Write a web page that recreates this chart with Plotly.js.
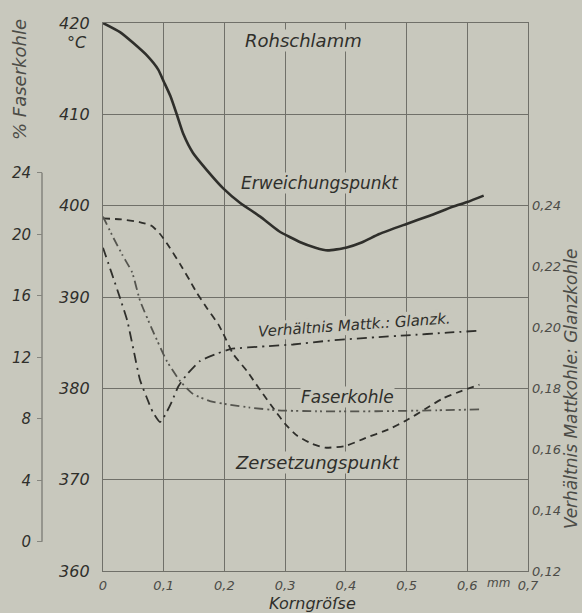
<!DOCTYPE html>
<html>
<head>
<meta charset="utf-8">
<script src="https://cdn.plot.ly/plotly-3.0.1.min.js"></script>
<style>html,body{margin:0;padding:0;background:#c8c8bd;}#chart{width:582px;height:613px;}</style>
</head>
<body>
<div id="chart"></div>
<script>
// Erweichungspunkt (°C, left axis)
const erwX = [0,0.028,0.05,0.073,0.091,0.1,0.111,0.122,0.132,0.148,0.171,0.198,0.226,0.259,0.29,0.325,0.35,0.37,0.40,0.427,0.455,0.50,0.538,0.577,0.60,0.627];
const erwT = [420,419,417.8,416.4,414.9,413.6,412.0,409.9,407.9,405.8,403.9,401.9,400.3,398.8,397.2,396.0,395.4,395.1,395.4,396.0,396.9,398.0,398.9,399.9,400.4,401.1];
// Zersetzungspunkt (°C, left axis)
const zerX = [0,0.03,0.06,0.08,0.094,0.11,0.127,0.143,0.155,0.171,0.19,0.198,0.214,0.237,0.259,0.283,0.30,0.32,0.345,0.366,0.40,0.43,0.47,0.50,0.53,0.56,0.59,0.62];
const zerT = [398.6,398.5,398.2,397.8,396.9,395.4,393.6,391.8,390.4,388.8,387,386,383.8,381.9,379.8,377.6,376.1,374.8,373.9,373.5,373.7,374.5,375.5,376.5,377.7,378.9,379.7,380.4];
// Faserkohle (%, far-left axis)
const fasX = [0,0.017,0.032,0.048,0.061,0.082,0.105,0.127,0.148,0.176,0.209,0.242,0.287,0.35,0.45,0.55,0.62];
const fasP = [21.15,19.78,18.65,17.52,15.68,13.72,11.76,10.45,9.62,9.15,8.91,8.73,8.55,8.49,8.49,8.55,8.61];
// Verhältnis Mattkohle : Glanzkohle (right axis)
const verX = [0,0.014,0.028,0.04,0.05,0.061,0.072,0.082,0.094,0.103,0.113,0.124,0.138,0.16,0.188,0.21,0.267,0.313,0.369,0.45,0.5,0.567,0.62];
const verR = [0.2262,0.218,0.2097,0.2022,0.1929,0.1827,0.1770,0.1722,0.1689,0.1715,0.1755,0.1806,0.1845,0.189,0.1914,0.1929,0.1938,0.1944,0.1956,0.1968,0.1974,0.1983,0.1989];

const xTicks = [0,0.1,0.2,0.3,0.4,0.5,0.6,0.7];
const xTickText = ['0','0,1','0,2','0,3','0,4','0,5','0,6','0,7'];
const tTicks = [360,370,380,390,400,410,420];
const pTicks = [0,4,8,12,16,20,24];
const rTicks = [0.12,0.14,0.16,0.18,0.20,0.22,0.24];
const rTickText = ['0,12','0,14','0,16','0,18','0,20','0,22','0,24'];

const FONT = 'DejaVu Sans, Verdana, sans-serif';
const INK = '#2f2f2b';
const GREY = '#4c4c47';
const GRID = '#707069';
const BG = '#c8c8bd';

const W = 582, H = 613, L = 103, R = 528, T = 23, B = 571;
const px = v => v / W;
const py = v => (B - v) / (B - T);

const traces = [
  {x: erwX, y: erwT, mode: 'lines', line: {color: INK, width: 2.6, shape: 'spline', smoothing: 0.5}, xaxis: 'x', yaxis: 'y', hoverinfo: 'skip'},
  {x: zerX, y: zerT, mode: 'lines', line: {color: INK, width: 1.8, dash: '7px,5px', shape: 'spline', smoothing: 0.5}, xaxis: 'x', yaxis: 'y', hoverinfo: 'skip'},
  {x: verX, y: verR, mode: 'lines', line: {color: INK, width: 1.8, dash: '10px,5px,2px,5px', shape: 'spline', smoothing: 0.5}, xaxis: 'x', yaxis: 'y2', hoverinfo: 'skip'},
  {x: fasX, y: fasP, mode: 'lines', line: {color: '#55554f', width: 1.8, dash: '9px,4px,2px,3px,2px,4px', shape: 'spline', smoothing: 0.5}, xaxis: 'x', yaxis: 'y3', hoverinfo: 'skip'}
];

const ann = (text, x, y, size, extra) => Object.assign({
  text: '<i>' + text + '</i>', x: x, y: y, xref: 'x', yref: 'y', showarrow: false,
  xanchor: 'center', yanchor: 'middle',
  font: {family: FONT, size: size, color: INK}, bgcolor: BG, borderpad: 0
}, extra || {});

const pann = (text, x, y, size, color, extra) => Object.assign({
  text: '<i>' + text + '</i>', xref: 'paper', yref: 'paper', x: px(x), y: py(y), showarrow: false,
  xanchor: 'center', yanchor: 'middle', font: {family: FONT, size: size, color: color}
}, extra || {});

const layout = {
  width: W, height: H,
  margin: {l: 0, r: 0, t: T, b: H - B, pad: 0},
  paper_bgcolor: BG, plot_bgcolor: BG,
  showlegend: false,
  xaxis: {
    domain: [L / W, R / W], range: [0, 0.7], tickvals: xTicks, ticktext: xTickText,
    showgrid: true, gridcolor: GRID, gridwidth: 1, zeroline: false,
    showline: true, linecolor: GRID, linewidth: 1.2, mirror: true, ticks: '',
    tickfont: {family: FONT, size: 13, color: GREY, style: 'italic'},
    ticklabelstandoff: 2
  },
  yaxis: {
    range: [360, 420], tickvals: tTicks, showgrid: true, gridcolor: GRID, gridwidth: 1,
    zeroline: false, showline: true, linecolor: GRID, linewidth: 1.2, mirror: true, ticks: '',
    tickfont: {family: FONT, size: 16, color: INK, style: 'italic'}, ticklabelstandoff: 9
  },
  yaxis2: {
    overlaying: 'y', side: 'right', anchor: 'x', range: [0.12, 0.30], tickvals: rTicks, ticktext: rTickText,
    showgrid: false, zeroline: false, showline: false, ticks: '',
    tickfont: {family: FONT, size: 13, color: GREY, style: 'italic'}, ticklabelstandoff: 3
  },
  yaxis3: {
    overlaying: 'y', side: 'left', anchor: 'free', position: 42 / W,
    range: [-1.90, 33.74], tickvals: pTicks, showgrid: false, zeroline: false, showline: false,
    ticks: 'outside', ticklen: 5, tickcolor: '#85857e', tickwidth: 1.2,
    tickfont: {family: FONT, size: 15, color: INK, style: 'italic'}, ticklabelstandoff: 3
  },
  shapes: [
    {type: 'line', xref: 'paper', yref: 'y3', x0: 42 / W, x1: 42 / W, y0: 0, y1: 24, line: {color: '#85857e', width: 1.5}}
  ],
  annotations: [
    ann('Rohschlamm', 0.3295, 418.1, 18),
    ann('Erweichungspunkt', 0.3575, 402.5, 17),
    ann('Verhältnis Mattk.: Glanzk.', 0.415, 386.9, 15, {textangle: -4}),
    ann('Faserkohle', 0.402, 379.05, 17),
    ann('Zersetzungspunkt', 0.354, 371.9, 18),
    pann('°C', 77, 43, 16, INK),
    pann('mm', 498, 583, 12, GREY),
    pann('Korngröſse', 312, 603, 16, INK),
    pann('% Faserkohle', 20, 80, 18, GREY, {textangle: -90}),
    pann('Verhältnis Mattkohle: Glanzkohle', 571, 389, 17, GREY, {textangle: -90})
  ]
};

Plotly.newPlot('chart', traces, layout, {staticPlot: true, displayModeBar: false});
</script>
</body>
</html>
